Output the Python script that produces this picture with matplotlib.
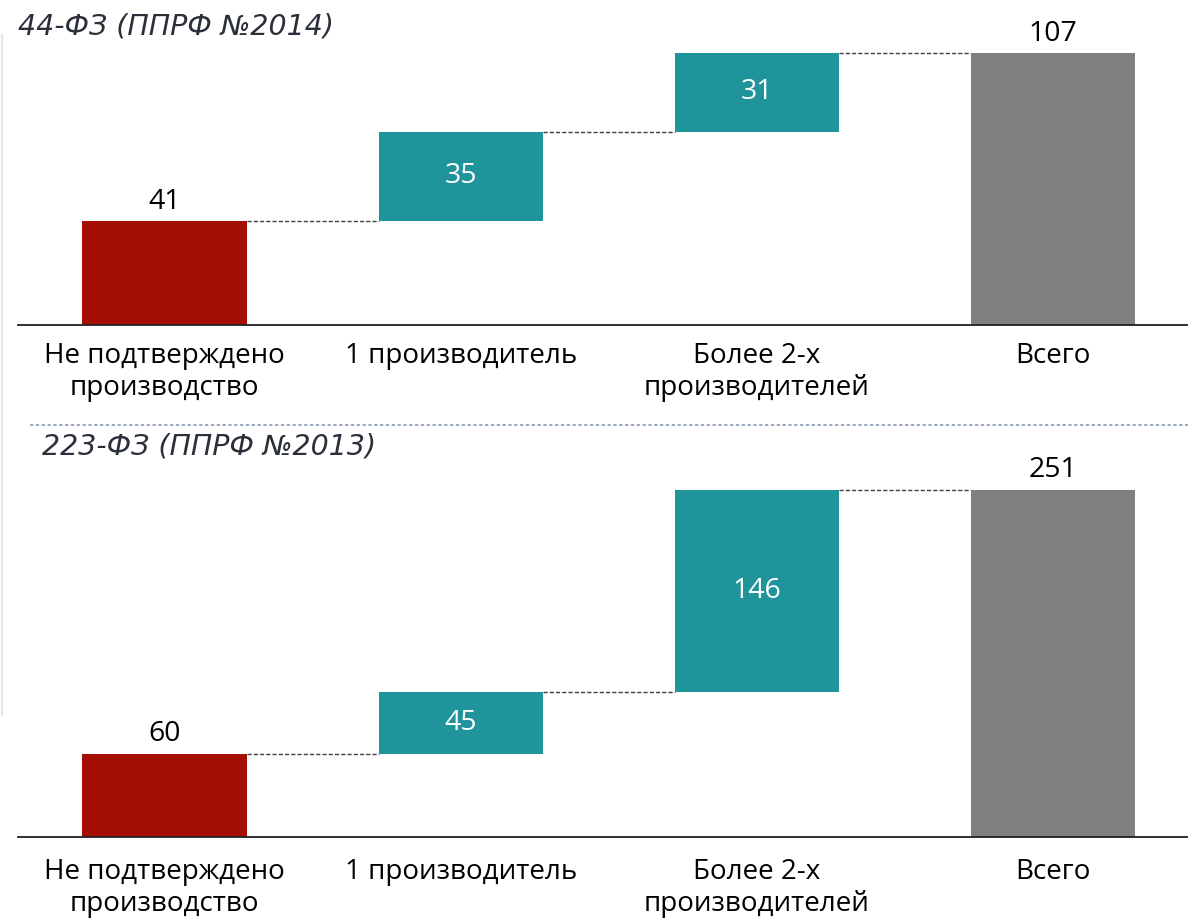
import matplotlib.pyplot as plt
import matplotlib.lines as mlines

categories = ["Не подтверждено\nпроизводство", "1 производитель", "Более 2-х\nпроизводителей", "Всего"]
values_44 = [41, 35, 31, 107]
values_223 = [60, 45, 146, 251]
titles = ["44-ФЗ (ППРФ №2014)", "223-ФЗ (ППРФ №2013)"]

RED = "#A50E02"
TEAL = "#1F959B"
GRAY = "#808080"

fig = plt.figure(figsize=(11.88, 9.19), dpi=100)
W, H = 1188, 919

def ax_at(x0, y0, x1, y1):
    return fig.add_axes([x0 / W, 1 - y1 / H, (x1 - x0) / W, (y1 - y0) / H])

def waterfall(ax, vals, ymax, pad):
    n = len(vals)
    x = list(range(n))
    width = 0.555
    bottoms = []
    cum = 0
    for i, v in enumerate(vals):
        if i == 0 or i == n - 1:
            bottoms.append(0)
        else:
            bottoms.append(cum)
        if i < n - 1:
            cum += v
    colors = [RED] + [TEAL] * (n - 2) + [GRAY]
    ax.bar(x, vals, bottom=bottoms, width=width, color=colors, zorder=2)
    for i in range(n - 1):
        level = bottoms[i] + vals[i]
        ax.plot([i + width / 2, i + 1 - width / 2], [level, level],
                ls=(0, (3, 1.5)), color="#404040", lw=1.0, zorder=1)
    for i, v in enumerate(vals):
        if i == 0 or i == n - 1:
            ax.text(i, bottoms[i] + v + ymax * 0.015, str(v), ha="center", va="bottom",
                    fontsize=20.5, family="Open Sans", color="black")
        else:
            ax.text(i, bottoms[i] + v / 2, str(v), ha="center", va="center",
                    fontsize=20.5, family="Open Sans", color="white")
    ax.set_xlim(-0.495, n - 1 + 0.455)
    ax.set_ylim(0, ymax)
    for s in ["top", "right", "left"]:
        ax.spines[s].set_visible(False)
    ax.spines["bottom"].set_linewidth(1.3)
    ax.spines["bottom"].set_color("#222222")
    ax.set_yticks([])
    ax.set_xticks(x)
    ax.set_xticklabels(categories, fontsize=20, family="Open Sans", linespacing=1.2)
    ax.tick_params(axis="x", length=0, pad=pad)
    ax.patch.set_alpha(0)

ax1 = ax_at(18, 20, 1188, 325)
waterfall(ax1, values_44, 107 * 305 / 272, 12)
ax2 = ax_at(18, 460, 1188, 837)
waterfall(ax2, values_223, 251 * 377 / 347, 15)

fig.text(18 / W, 1 - 27 / H, titles[0], fontsize=20.5, style="italic", color="#2b2f3a",
         family="DejaVu Sans", ha="left", va="center")
fig.text(42 / W, 1 - 446 / H, titles[1], fontsize=20.5, style="italic", color="#2b2f3a",
         family="DejaVu Sans", ha="left", va="center")

sep = mlines.Line2D([30 / W, 1], [1 - 425 / H, 1 - 425 / H], transform=fig.transFigure,
                    color="#8a9bb0", lw=1.2, ls=(0, (2, 1.5)))
fig.add_artist(sep)
edge = mlines.Line2D([1.5 / W, 1.5 / W], [1 - 715 / H, 1 - 35 / H], transform=fig.transFigure,
                     color="#e6e6e6", lw=1.5)
fig.add_artist(edge)

fig.savefig("out.png", dpi=100)
